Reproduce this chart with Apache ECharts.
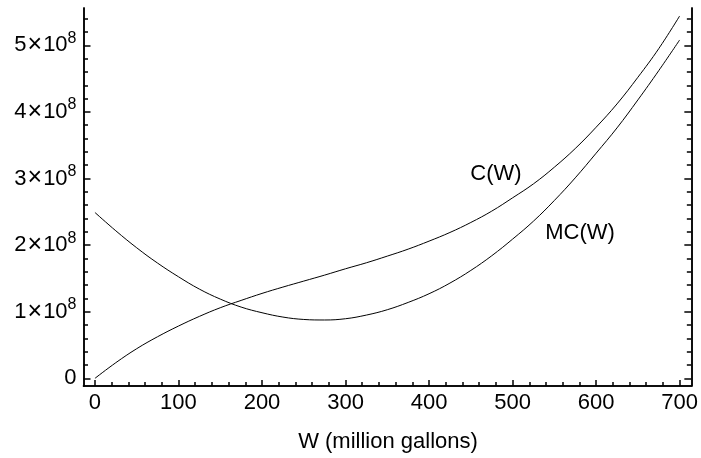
<!DOCTYPE html>
<html>
<head>
<meta charset="utf-8">
<script src="https://cdn.jsdelivr.net/npm/echarts@6/dist/echarts.min.js"></script>
<style>
html, body { margin: 0; padding: 0; background: #fff; }
#main { width: 701px; height: 458px; }
</style>
</head>
<body>
<div id="main"></div>
<script>
// W in million gallons, values in units of 1e8
var wValues = [0, 25, 50, 75, 100, 125, 150, 175, 200, 225, 250, 275, 300, 325, 350,
    375, 400, 425, 450, 475, 500, 525, 550, 575, 600, 625, 650, 675, 700];
var cValues = [0, 0.235, 0.445, 0.625, 0.785, 0.93, 1.06, 1.17, 1.275, 1.37, 1.46, 1.55, 1.645, 1.735, 1.835,
    1.94, 2.06, 2.19, 2.34, 2.51, 2.71, 2.92, 3.17, 3.45, 3.77, 4.12, 4.52, 4.95, 5.44];
var mcValues = [2.49, 2.215, 1.96, 1.73, 1.525, 1.34, 1.19, 1.07, 0.985, 0.92, 0.884, 0.876, 0.895, 0.95, 1.03,
    1.14, 1.27, 1.43, 1.62, 1.84, 2.09, 2.36, 2.67, 3.01, 3.38, 3.76, 4.18, 4.62, 5.08];

var xMajor = [0, 100, 200, 300, 400, 500, 600, 700];
var xMinor = [0, 20, 40, 60, 80, 120, 140, 160, 180, 220, 240, 260, 280, 320, 340, 360, 380,
    420, 440, 460, 480, 520, 540, 560, 580, 620, 640, 660, 680, 700];
var yMajor = [0, 1, 2, 3, 4, 5];
var yMinor = [0, 0.2, 0.4, 0.6, 0.8, 1.2, 1.4, 1.6, 1.8, 2.2, 2.4, 2.6, 2.8, 3.2, 3.4, 3.6, 3.8,
    4.2, 4.4, 4.6, 4.8, 5.2, 5.4];

var font = "'Liberation Sans', Arial, sans-serif";
var xMin = -13.7, xMax = 714;
var yMin = -0.115, yMax = 5.56;

function pair(arr) {
    return wValues.map(function (w, i) { return [w, arr[i]]; });
}

function xAx(ticks, len, labels) {
    return {
        type: 'value', min: xMin, max: xMax, position: 'bottom',
        splitLine: {show: false},
        axisLine: {show: true, onZero: false, lineStyle: {color: '#000', width: 1.5}},
        axisTick: {show: true, inside: true, length: len, customValues: ticks, lineStyle: {color: '#000', width: 1.5}},
        axisLabel: {show: labels, customValues: xMajor, margin: 6, color: '#000', fontSize: 22, fontFamily: font}
    };
}

function yAx(pos, ticks, len, labels) {
    return {
        type: 'value', min: yMin, max: yMax, position: pos,
        splitLine: {show: false},
        axisLine: {show: true, onZero: false, lineStyle: {color: '#000', width: 1.5}},
        axisTick: {show: true, inside: true, length: len, customValues: ticks, lineStyle: {color: '#000', width: 1.5}},
        axisLabel: {
            show: labels, customValues: yMajor, margin: 7, color: '#000', fontSize: 22, fontFamily: font,
            formatter: function (v) {
                if (v === 0) return '{a|0}';
                return '{a|' + v + '}{x|×}{a|10}{s|8}';
            },
            rich: {
                a: {fontSize: 22, fontFamily: font, color: '#000'},
                x: {fontSize: 25, fontFamily: font, color: '#000', padding: [0, 1, 0, 1]},
                s: {fontSize: 16, fontFamily: font, color: '#000', padding: [0, 0, 14, 0]}
            }
        }
    };
}

var option = {
    animation: false,
    backgroundColor: '#fff',
    grid: {left: 83.5, right: 8.3, top: 8, bottom: 72},
    xAxis: [
        xAx(xMajor, 6, true),
        xAx(xMinor, 4, false)
    ],
    yAxis: [
        yAx('left', yMajor, 7, true),
        yAx('left', yMinor, 4.5, false),
        yAx('right', yMajor, 7, false),
        yAx('right', yMinor, 4.5, false)
    ],
    graphic: [
        {type: 'text', x: 496, y: 174, style: {text: 'C(W)', fontSize: 22, fontFamily: font, fill: '#000', align: 'center', verticalAlign: 'middle'}},
        {type: 'text', x: 580, y: 233, style: {text: 'MC(W)', fontSize: 22, fontFamily: font, fill: '#000', align: 'center', verticalAlign: 'middle'}},
        {type: 'text', x: 388, y: 442, style: {text: 'W (million gallons)', fontSize: 22, fontFamily: font, fill: '#000', align: 'center', verticalAlign: 'middle'}}
    ],
    series: [
        {
            name: 'C(W)', type: 'line', smooth: 0.4, showSymbol: false,
            xAxisIndex: 0, yAxisIndex: 0,
            lineStyle: {color: '#000', width: 1},
            data: pair(cValues)
        },
        {
            name: 'MC(W)', type: 'line', smooth: 0.4, showSymbol: false,
            xAxisIndex: 0, yAxisIndex: 0,
            lineStyle: {color: '#000', width: 1},
            data: pair(mcValues)
        }
    ]
};
echarts.init(document.getElementById('main')).setOption(option);
</script>
</body>
</html>
